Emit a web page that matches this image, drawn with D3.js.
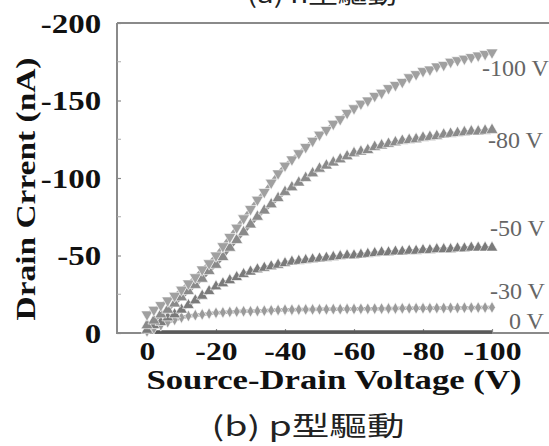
<!DOCTYPE html>
<html><head><meta charset="utf-8">
<script src="https://cdn.jsdelivr.net/npm/d3@7/dist/d3.min.js"></script>
<style>body{margin:0;background:#fff}svg{display:block}</style>
</head><body>
<svg id="c" width="549" height="446"></svg>
<script>
// Source-drain voltage (V), 2 V steps
const vsd = [0,-2,-4,-6,-8,-10,-12,-14,-16,-18,-20,-22,-24,-26,-28,-30,-32,-34,-36,-38,-40,-42,-44,-46,-48,-50,-52,-54,-56,-58,-60,-62,-64,-66,-68,-70,-72,-74,-76,-78,-80,-82,-84,-86,-88,-90,-92,-94,-96,-98,-100];
// Drain current (nA) for each gate voltage
const id100 = [-12,-15,-18,-21,-24,-28,-32,-36,-41,-45,-50,-56,-62,-68,-74,-80,-86,-91,-97,-103,-108,-112,-116,-120,-124,-128,-131,-135,-138,-142,-145,-148,-150,-153,-155,-158,-160,-162,-165,-167,-169,-170,-172,-173,-175,-176,-177,-178,-179,-180,-181];
const id80 = [-5,-8,-12,-15,-19,-23,-27,-31,-35,-40,-44,-49,-55,-60,-65,-70,-75,-79,-83,-87,-91,-94,-97,-100,-103,-106,-108,-110,-112,-114,-116,-117,-118,-120,-121,-122,-123,-124,-124.5,-125,-126,-126.5,-127,-128,-128.5,-129,-129.5,-130,-130,-130.5,-131];
const id50 = [-2,-5,-7,-10,-12,-15,-18,-21,-24,-27,-30,-32,-34,-36,-38,-39.5,-41,-42,-43,-44,-45,-46,-46.5,-47,-47.5,-48,-48.5,-49,-49.5,-50,-50,-50.5,-51,-51.5,-52,-52,-52.5,-52.5,-53,-53,-53.5,-53.5,-54,-54,-54,-54.5,-54.5,-55,-55,-55,-55];
const id30 = [-1,-3,-5,-7,-8.5,-10,-11,-11.5,-12,-12.5,-13,-13.3,-13.6,-13.8,-14,-14,-14.2,-14.4,-14.6,-14.8,-15,-15,-15.1,-15.2,-15.2,-15.3,-15.3,-15.4,-15.4,-15.5,-15.5,-15.6,-15.6,-15.7,-15.7,-15.8,-15.8,-15.9,-15.9,-16,-16,-16,-16.1,-16.1,-16.2,-16.2,-16.3,-16.3,-16.4,-16.4,-16.5];
const id0 = [-0.6,-0.6,-0.6,-0.6,-0.6,-0.6,-0.6,-0.6,-0.6,-0.6,-0.6,-0.6,-0.6,-0.6,-0.6,-0.6,-0.6,-0.6,-0.6,-0.6,-0.6,-0.6,-0.6,-0.6,-0.6,-0.6,-0.6,-0.6,-0.6,-0.6,-0.6,-0.6,-0.6,-0.6,-0.6,-0.6,-0.6,-0.6,-0.6,-0.6,-0.6,-0.6,-0.6,-0.6,-0.6,-0.6,-0.6,-0.6,-0.6,-0.6,-0.6];
const seriesLabels = ["-100 V","-80 V","-50 V","-30 V","0 V"];
const xTicks = [0,-20,-40,-60,-80,-100];
const yTicks = [0,-50,-100,-150,-200];
const yMinorTicks = [-25,-75,-125,-175];
const xTitle = "Source-Drain Voltage (V)";
const yTitle = "Drain Crrent (nA)";
const captionTop = "(a) n型驅動";
const captionBottom = "(b) p型驅動";

const svg = d3.select("#c");
const W = 549;
const x = d3.scaleLinear().domain([0,-100]).range([147,492]);
const y = d3.scaleLinear().domain([0,-200]).range([333,23]);
const pLeft = 117, pTop = 23, pBottom = 333;
const SX = 1.22;
const serif = "'Liberation Serif','Times New Roman',serif";
const fmt = d => String(d);

// frame
const frameColor = "#8a8a8a";
svg.append("path").attr("d", `M${pLeft},${pTop}H${W}M${pLeft},${pTop}V${pBottom}H${W}`)
  .attr("fill","none").attr("stroke",frameColor).attr("stroke-width",2);

// y axis
const gy = svg.append("g").attr("transform",`translate(${pLeft},0)`)
  .call(d3.axisLeft(y).tickValues(yTicks).tickSize(-4).tickFormat(fmt));
gy.select(".domain").remove();
gy.attr("font-family",serif);
gy.selectAll("line").attr("stroke",frameColor).attr("stroke-width",1.2);
gy.selectAll("text").attr("x",-13).attr("dy","0.34em").attr("transform",`scale(${SX},1)`)
  .attr("font-family",serif).attr("font-weight","bold").attr("font-size",27).attr("fill","#111");
svg.append("g").selectAll("line").data(yMinorTicks).join("line")
  .attr("x1",pLeft).attr("x2",pLeft+4).attr("y1",d=>y(d)).attr("y2",d=>y(d))
  .attr("stroke","#aaa").attr("stroke-width",1);

// x axis
const gx = svg.append("g").attr("transform",`translate(0,${pBottom})`)
  .call(d3.axisBottom(x).tickValues(xTicks).tickSize(-4).tickFormat(fmt));
gx.select(".domain").remove();
gx.attr("font-family",serif);
gx.selectAll("line").attr("stroke",frameColor).attr("stroke-width",1.2);
gx.selectAll(".tick").each(function(d){ if(d===0) d3.select(this).select("line").remove(); });
gx.selectAll("text").attr("x",0).attr("y",27).attr("dy",0).attr("transform",`scale(${SX},1)`)
  .attr("font-family",serif).attr("font-weight","bold").attr("font-size",26).attr("fill","#111");

// series
const pts = (arr)=> vsd.map((v,i)=>[x(v),y(arr[i])]);
const line = d3.line();
const specs = [
  {data:id0,   color:"#5a5a5a", sym:null},
  {data:id30,  color:"#9a9a9a", sym:d3.symbolDiamond, size:40, rot:0},
  {data:id50,  color:"#7a7a7a", sym:d3.symbolTriangle, size:58, rot:0},
  {data:id80,  color:"#8a8a8a", sym:d3.symbolTriangle, size:62, rot:0},
  {data:id100, color:"#a0a0a0", sym:d3.symbolTriangle, size:62, rot:180},
];
specs.forEach(s=>{
  const p = pts(s.data);
  svg.append("path").attr("d",line(p)).attr("fill","none")
    .attr("stroke",s.color).attr("stroke-width",3.5);
  if(s.sym){
    svg.append("g").selectAll("path").data(p).join("path")
      .attr("d",d3.symbol().type(s.sym).size(s.size))
      .attr("transform",d=>`translate(${d[0]},${d[1]}) rotate(${s.rot})`)
      .attr("fill",s.color).attr("stroke","#fff").attr("stroke-width",0.6);
  }
});

// series labels
const labY = [76,148,236,299,329];
const labX = [482,488,490,490,509];
seriesLabels.forEach((t,i)=>{
  svg.append("text").attr("transform",`translate(${labX[i]},${labY[i]})`)
    .attr("font-family",serif).attr("font-size",24).attr("fill","#666").text(t);
});

// titles
svg.append("text").attr("x",334).attr("y",389).attr("text-anchor","middle")
  .attr("textLength",375).attr("lengthAdjust","spacingAndGlyphs")
  .attr("font-family",serif).attr("font-weight","bold").attr("font-size",28).attr("fill","#111").text(xTitle);
svg.append("text").attr("transform","translate(35,189) rotate(-90)").attr("text-anchor","middle")
  .attr("textLength",263).attr("lengthAdjust","spacingAndGlyphs")
  .attr("font-family",serif).attr("font-weight","bold").attr("font-size",28).attr("fill","#111").text(yTitle);

// captions
const cjk = "'Noto Sans CJK TC','Noto Sans',sans-serif";
svg.append("text").attr("x",308).attr("y",436).attr("text-anchor","middle")
  .attr("textLength",193).attr("lengthAdjust","spacingAndGlyphs")
  .attr("font-family",cjk).attr("font-size",27).attr("fill","#222").text(captionBottom);
svg.append("text").attr("x",322).attr("y",3).attr("text-anchor","middle")
  .attr("textLength",150).attr("lengthAdjust","spacingAndGlyphs")
  .attr("font-family",cjk).attr("font-size",24).attr("fill","#222").text(captionTop);
</script>
</body></html>
